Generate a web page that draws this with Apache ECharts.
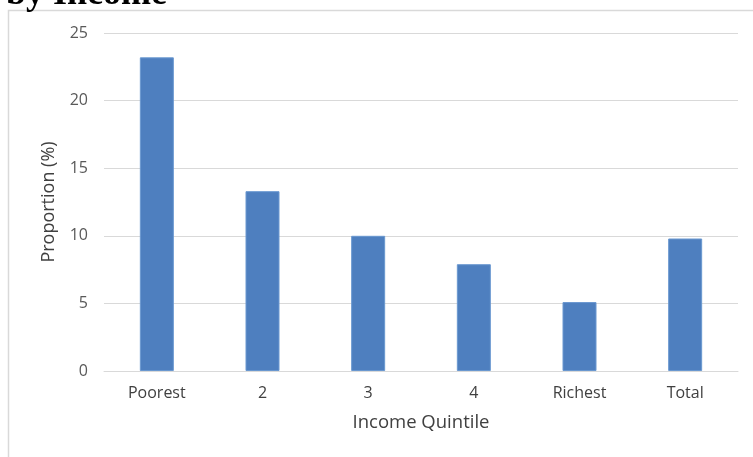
<!DOCTYPE html>
<html>
<head>
<meta charset="utf-8">
<script src="https://cdn.jsdelivr.net/npm/echarts@6/dist/echarts.min.js"></script>
<style>
  html, body { margin: 0; padding: 0; background: #ffffff; }
  #chart { width: 753px; height: 457px; }
</style>
</head>
<body>
<div id="chart"></div>
<script>
// Share of people by income quintile
const categories = ['Poorest', '2', '3', '4', 'Richest', 'Total'];
const proportion = [23.2, 13.3, 10.0, 7.9, 5.1, 9.8];
const yTicks = [0, 5, 10, 15, 20, 25];

const chart = echarts.init(document.getElementById('chart'), null, { renderer: 'canvas' });

const labelFont = '"Open Sans", "Noto Sans", sans-serif';

chart.setOption({
  animation: false,
  backgroundColor: '#ffffff',
  graphic: [
    {
      type: 'rect',
      shape: { x: 8.5, y: 10.5, width: 760, height: 460 },
      style: { fill: 'none', stroke: '#d9d9d9', lineWidth: 1.5 },
      z: 0
    },
    {
      type: 'text',
      left: 6,
      top: -23,
      style: {
        text: 'by Income',
        font: 'bold 36px "Liberation Serif", "DejaVu Serif", serif',
        fill: '#000000'
      },
      z: 10
    }
  ],
  grid: { left: 104, right: 15, top: 33, bottom: 86, containLabel: false },
  xAxis: {
    type: 'category',
    data: categories,
    name: 'Income Quintile',
    nameLocation: 'middle',
    nameGap: 42,
    nameTextStyle: { fontFamily: labelFont, fontSize: 18.5, color: '#404040' },
    axisLine: { show: true, lineStyle: { color: '#d9d9d9', width: 1 } },
    axisTick: { show: false },
    axisLabel: { fontFamily: labelFont, fontSize: 16, color: '#404040', margin: 14 }
  },
  yAxis: {
    type: 'value',
    min: yTicks[0],
    max: yTicks[yTicks.length - 1],
    interval: yTicks[1] - yTicks[0],
    name: 'Proportion (%)',
    nameLocation: 'middle',
    nameGap: 46,
    nameTextStyle: { fontFamily: labelFont, fontSize: 18, color: '#404040' },
    axisLine: { show: false },
    axisTick: { show: false },
    axisLabel: { fontFamily: labelFont, fontSize: 16, color: '#595959', margin: 16 },
    splitLine: { show: true, lineStyle: { color: '#d9d9d9', width: 1 } }
  },
  series: [
    {
      type: 'bar',
      data: proportion,
      barWidth: 34,
      itemStyle: { color: '#4e7fbf', borderColor: '#6a98d0', borderWidth: 1 }
    }
  ]
});
</script>
</body>
</html>
